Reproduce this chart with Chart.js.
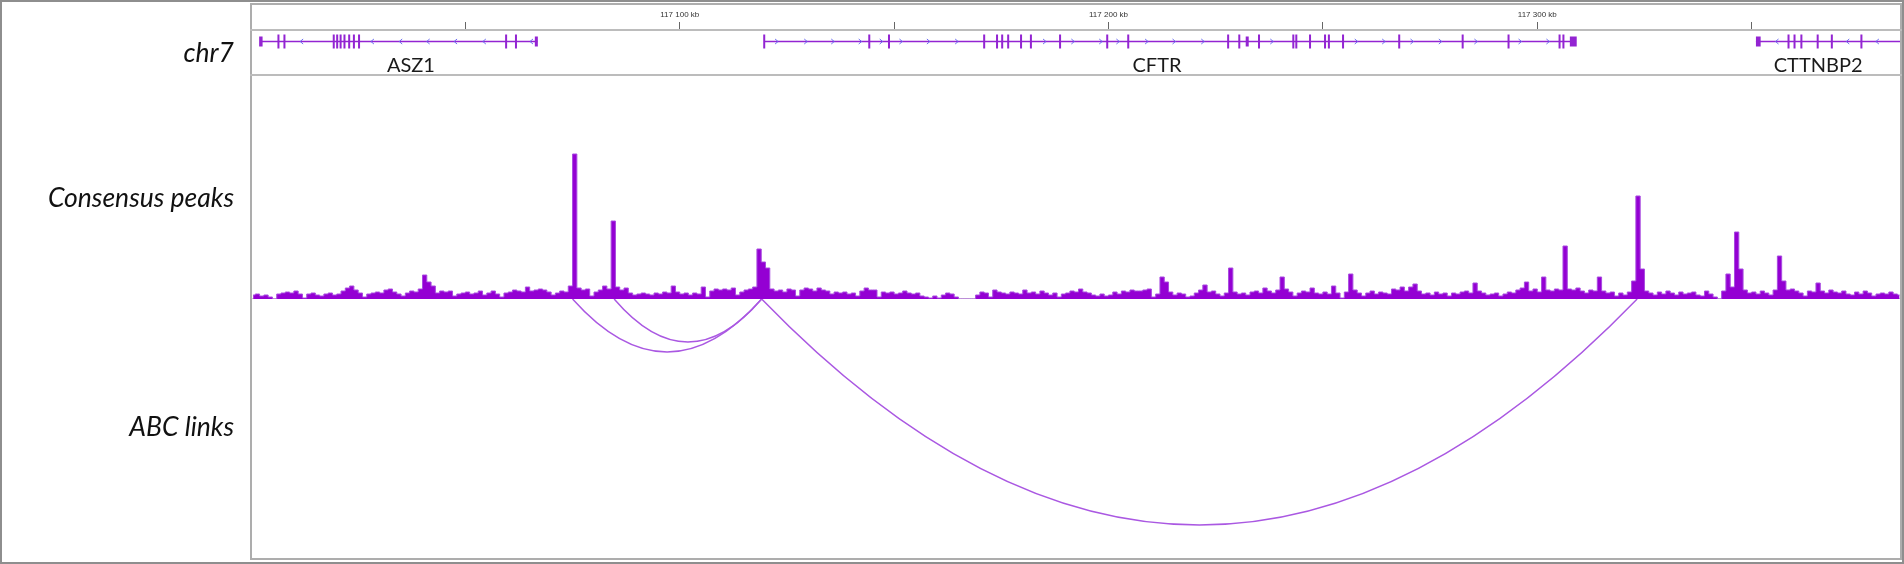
<!DOCTYPE html>
<html>
<head>
<meta charset="utf-8">
<script src="https://cdn.jsdelivr.net/npm/chart.js@4.4.1/dist/chart.umd.min.js"></script>
<style>
  body { margin: 0; background: #fff; }
  #page { position: relative; width: 1904px; height: 564px; overflow: hidden; background: #fff; }
  canvas { position: absolute; left: 0; }
  .lbl { position: absolute; right: 1670px; font-family: Lato, "Open Sans", sans-serif; font-style: italic;
         font-size: 26.5px; color: #111; white-space: nowrap; transform: translateY(-50%); }
  .hline { position: absolute; left: 250px; width: 1652px; height: 2px; background: #bcbcbc; }
  #frame { position: absolute; left: 250px; top: 3px; width: 1652px; height: 557px; box-sizing: border-box; border: 2px solid #adadad; }
  #outer { position: absolute; left: 0; top: 0; width: 1904px; height: 564px; box-sizing: border-box; border: 2px solid #8e8e8e; }
  #base { position: absolute; left: 251px; width: 1649px; top: 298px; height: 1px; background: #d0d0d0; }
</style>
</head>
<body>
<div id="page">
  <div id="base"></div>
  <canvas id="genes" width="1904" height="72" style="top:3px"></canvas>
  <canvas id="peaks" width="1904" height="224" style="top:75px"></canvas>
  <canvas id="links" width="1904" height="259" style="top:299px"></canvas>
  <div id="frame"></div>
  <div class="hline" style="top:29px"></div>
  <div class="hline" style="top:74px"></div>
  <div class="lbl" style="top:52px">chr7</div>
  <div class="lbl" style="top:197px">Consensus peaks</div>
  <div class="lbl" style="top:426px">ABC links</div>
  <div id="outer"></div>
</div>
<script>
// region shown, in kb on chr7
const xMin = 117000;
const xMax = 117384.6;
const tickValues = [117050, 117100, 117150, 117200, 117250, 117300, 117350];
const tickLabels = ['', '117 100 kb', '', '117 200 kb', '', '117 300 kb', ''];

// genes
const geneNames = ['ASZ1', 'CFTR', 'CTTNBP2'];
const geneStart = [117002.3, 117119.7, 117351.0];
const geneEnd = [117066.8, 117308.9, 117392.0];
const geneStrand = [-1, 1, -1];
const geneLabelAt = [117037.3, 117211.3, 117365.5];
const asz1Exons = [[117001.9, 117002.7], [117006.4, 117006.4], [117007.8, 117007.8], [117019.3, 117019.3],
  [117020.1, 117020.1], [117020.9, 117020.9], [117021.8, 117021.8], [117022.9, 117022.9], [117024.0, 117024.0],
  [117025.2, 117025.2], [117059.5, 117059.5], [117061.8, 117061.8], [117066.2, 117066.9]];
const cftrExons = [[117119.7, 117119.7], [117144.2, 117144.2], [117148.8, 117148.8], [117171.0, 117171.0],
  [117174.0, 117174.0], [117175.2, 117175.2], [117176.6, 117176.6], [117179.6, 117179.6], [117181.9, 117181.9],
  [117188.7, 117188.7], [117199.7, 117199.7], [117204.6, 117204.6], [117227.9, 117227.9], [117230.5, 117230.5],
  [117232.0, 117232.7], [117235.1, 117235.1], [117243.1, 117243.1], [117243.8, 117243.8], [117247.0, 117247.0],
  [117250.5, 117250.5], [117251.4, 117251.4], [117254.7, 117254.7], [117267.8, 117267.8], [117282.6, 117282.6],
  [117293.3, 117293.3], [117305.2, 117305.2], [117306.1, 117306.1], [117307.6, 117309.2]];
const cttnbp2Exons = [[117351.0, 117352.1], [117358.6, 117358.6], [117360.0, 117360.0], [117361.6, 117361.6],
  [117365.4, 117365.4], [117368.7, 117368.7], [117375.6, 117375.6]];
const asz1Arrows = [117011.7, 117028.2, 117034.8, 117041.2, 117047.6, 117054.3, 117065.3];
const cftrArrows = [117122.7, 117129.5, 117135.8, 117142.2, 117147.1, 117151.7, 117158.1, 117164.7, 117185.2,
  117191.8, 117198.3, 117202.3, 117209.0, 117215.4, 117222.1, 117238.2, 117257.9, 117264.3, 117270.9,
  117277.5, 117285.8, 117296.1, 117302.6];
const cttnbp2Arrows = [117355.8, 117372.3, 117379.2];
const geneExons = [asz1Exons, cftrExons, cttnbp2Exons];
const geneArrows = [asz1Arrows, cftrArrows, cttnbp2Arrows];

// consensus peak signal, 1 kb bins from xMin
const peakValues = [
  4, 5, 3, 4, 2, 0, 5, 6, 7, 6, 8, 5, 1, 5, 6, 4, 3, 5, 6, 4,
  5, 8, 11, 13, 9, 6, 2, 5, 6, 7, 6, 9, 10, 7, 5, 3, 6, 8, 7, 10,
  24, 17, 13, 6, 8, 7, 8, 3, 5, 6, 7, 5, 6, 8, 4, 6, 8, 5, 2, 6,
  7, 9, 8, 7, 12, 8, 9, 10, 9, 7, 4, 6, 8, 7, 13, 145, 11, 9, 10, 3,
  7, 9, 13, 10, 78, 12, 9, 11, 6, 4, 5, 6, 5, 4, 6, 5, 7, 6, 13, 7,
  5, 6, 4, 6, 5, 12, 2, 8, 10, 9, 10, 9, 11, 4, 7, 9, 10, 12, 50, 37,
  31, 10, 8, 9, 7, 10, 9, 3, 9, 11, 10, 8, 11, 9, 8, 5, 7, 6, 7, 5,
  6, 3, 8, 11, 9, 9, 2, 7, 6, 7, 5, 6, 8, 6, 5, 6, 3, 2, 1, 3,
  1, 4, 6, 5, 2, 0, 0, 0, 0, 4, 7, 6, 2, 9, 7, 6, 5, 7, 6, 5,
  9, 6, 7, 5, 8, 6, 4, 6, 2, 5, 6, 8, 7, 10, 7, 6, 4, 3, 5, 3,
  4, 7, 5, 8, 7, 9, 8, 8, 9, 10, 2, 5, 22, 17, 7, 4, 6, 5, 2, 3,
  6, 9, 14, 7, 8, 5, 3, 6, 31, 7, 5, 6, 4, 7, 8, 6, 11, 8, 6, 9,
  22, 10, 7, 3, 6, 8, 7, 11, 6, 5, 7, 5, 13, 6, 1, 7, 25, 9, 6, 3,
  6, 8, 5, 7, 6, 5, 10, 9, 12, 8, 12, 15, 8, 5, 6, 4, 7, 5, 6, 3,
  6, 5, 7, 8, 6, 16, 8, 6, 4, 5, 6, 3, 5, 7, 6, 9, 11, 17, 8, 10,
  7, 22, 9, 8, 10, 9, 53, 10, 9, 11, 8, 6, 9, 8, 22, 8, 6, 7, 3, 6,
  4, 7, 18, 103, 30, 8, 6, 4, 7, 5, 8, 6, 4, 7, 5, 6, 7, 4, 3, 8,
  5, 2, 0, 8, 25, 12, 67, 30, 9, 6, 7, 5, 8, 6, 4, 9, 43, 18, 9, 10,
  8, 6, 3, 8, 7, 16, 8, 6, 9, 7, 6, 8, 5, 4, 7, 5, 8, 6, 3, 5,
  6, 5, 7, 5, 4
];

// ABC links: anchors in kb, depth in track px
const linkStart = [117075.0, 117084.7, 117119.1];
const linkEnd = [117119.1, 117119.1, 117323.3];
const linkDepth = [53, 43, 226];

const geneColor = '#9324d2';
const arrowColor = '#6c6cf0';
const peakFill = '#9400d3';
const peakLine = '#a84ae0';
const arcColor = '#aa58e2';

const common = {
  responsive: false,
  animation: false,
  events: [],
  layout: { padding: { left: 251, right: 4, top: 0, bottom: 0 } },
  plugins: { legend: { display: false }, tooltip: { enabled: false } }
};

const geneTrack = {
  id: 'geneTrack',
  afterDatasetsDraw(chart) {
    const { ctx, chartArea, scales: { x, y } } = chart;
    const gy = y.getPixelForValue(12.5);
    ctx.save();
    ctx.beginPath();
    ctx.rect(chartArea.left, chartArea.top, chartArea.right - chartArea.left, chartArea.bottom - chartArea.top);
    ctx.clip();
    geneNames.forEach((name, g) => {
      ctx.strokeStyle = geneColor;
      ctx.fillStyle = geneColor;
      ctx.lineWidth = 1.5;
      ctx.beginPath();
      ctx.moveTo(x.getPixelForValue(geneStart[g]), gy);
      ctx.lineTo(x.getPixelForValue(geneEnd[g]), gy);
      ctx.stroke();
      geneExons[g].forEach(([s, e]) => {
        const x0 = x.getPixelForValue(s);
        const w = Math.max(2, x.getPixelForValue(e) - x0);
        const thick = e > s;
        const h = thick ? 10 : 14;
        ctx.fillRect(x0 - (thick ? 0 : 1), gy - h / 2, w, h);
      });
      ctx.strokeStyle = arrowColor;
      ctx.lineWidth = 1;
      geneArrows[g].forEach(a => {
        const ax = x.getPixelForValue(a);
        const d = geneStrand[g];
        ctx.beginPath();
        ctx.moveTo(ax - 2 * d, gy - 2.5);
        ctx.lineTo(ax + 1 * d, gy);
        ctx.lineTo(ax - 2 * d, gy + 2.5);
        ctx.stroke();
      });
    });
    ctx.restore();
    ctx.save();
    ctx.fillStyle = '#1a1a1a';
    ctx.font = '20px Lato, "Open Sans", sans-serif';
    ctx.textAlign = 'center';
    ctx.textBaseline = 'middle';
    geneNames.forEach((name, g) => {
      ctx.fillText(name, x.getPixelForValue(geneLabelAt[g]), y.getPixelForValue(36.5));
    });
    ctx.restore();
  }
};

new Chart(document.getElementById('genes'), {
  type: 'scatter',
  data: { datasets: [] },
  options: {
    ...common,
    scales: {
      x: {
        type: 'linear', position: 'top', min: xMin, max: xMax,
        afterBuildTicks: s => { s.ticks = tickValues.map(v => ({ value: v })); },
        afterFit: s => { s.height = 26; },
        grid: { display: true, drawOnChartArea: false, tickLength: 7, color: '#666', lineWidth: 1 },
        border: { display: false },
        ticks: {
          autoSkip: false, maxRotation: 0, padding: 2, color: '#333',
          font: { size: 8, family: 'Arial, "Liberation Sans", sans-serif' },
          callback: (v, i) => tickLabels[i]
        }
      },
      y: { display: false, min: 0, max: 46, reverse: true }
    }
  },
  plugins: [geneTrack]
});

new Chart(document.getElementById('peaks'), {
  type: 'line',
  data: {
    datasets: [{
      data: peakValues.map((v, i) => ({ x: xMin + i + 0.5, y: v })),
      stepped: 'middle',
      fill: 'origin',
      backgroundColor: peakFill,
      borderColor: peakLine,
      borderWidth: 1,
      pointRadius: 0
    }]
  },
  options: {
    ...common,
    scales: {
      x: { type: 'linear', display: false, min: xMin, max: xMax },
      y: { display: false, min: 0, max: 224 }
    }
  }
});

const abcArcs = {
  id: 'abcArcs',
  afterDatasetsDraw(chart) {
    const { ctx, scales: { x, y } } = chart;
    ctx.save();
    ctx.strokeStyle = arcColor;
    ctx.lineWidth = 1.5;
    linkStart.forEach((s, i) => {
      const x0 = x.getPixelForValue(s);
      const x1 = x.getPixelForValue(linkEnd[i]);
      const y0 = y.getPixelForValue(0);
      const yc = y.getPixelForValue(linkDepth[i] * 2);
      ctx.beginPath();
      ctx.moveTo(x0, y0);
      ctx.quadraticCurveTo((x0 + x1) / 2, yc, x1, y0);
      ctx.stroke();
    });
    ctx.restore();
  }
};

new Chart(document.getElementById('links'), {
  type: 'scatter',
  data: { datasets: [] },
  options: {
    ...common,
    scales: {
      x: { type: 'linear', display: false, min: xMin, max: xMax },
      y: { display: false, min: 0, max: 259, reverse: true }
    }
  },
  plugins: [abcArcs]
});
</script>
</body>
</html>
